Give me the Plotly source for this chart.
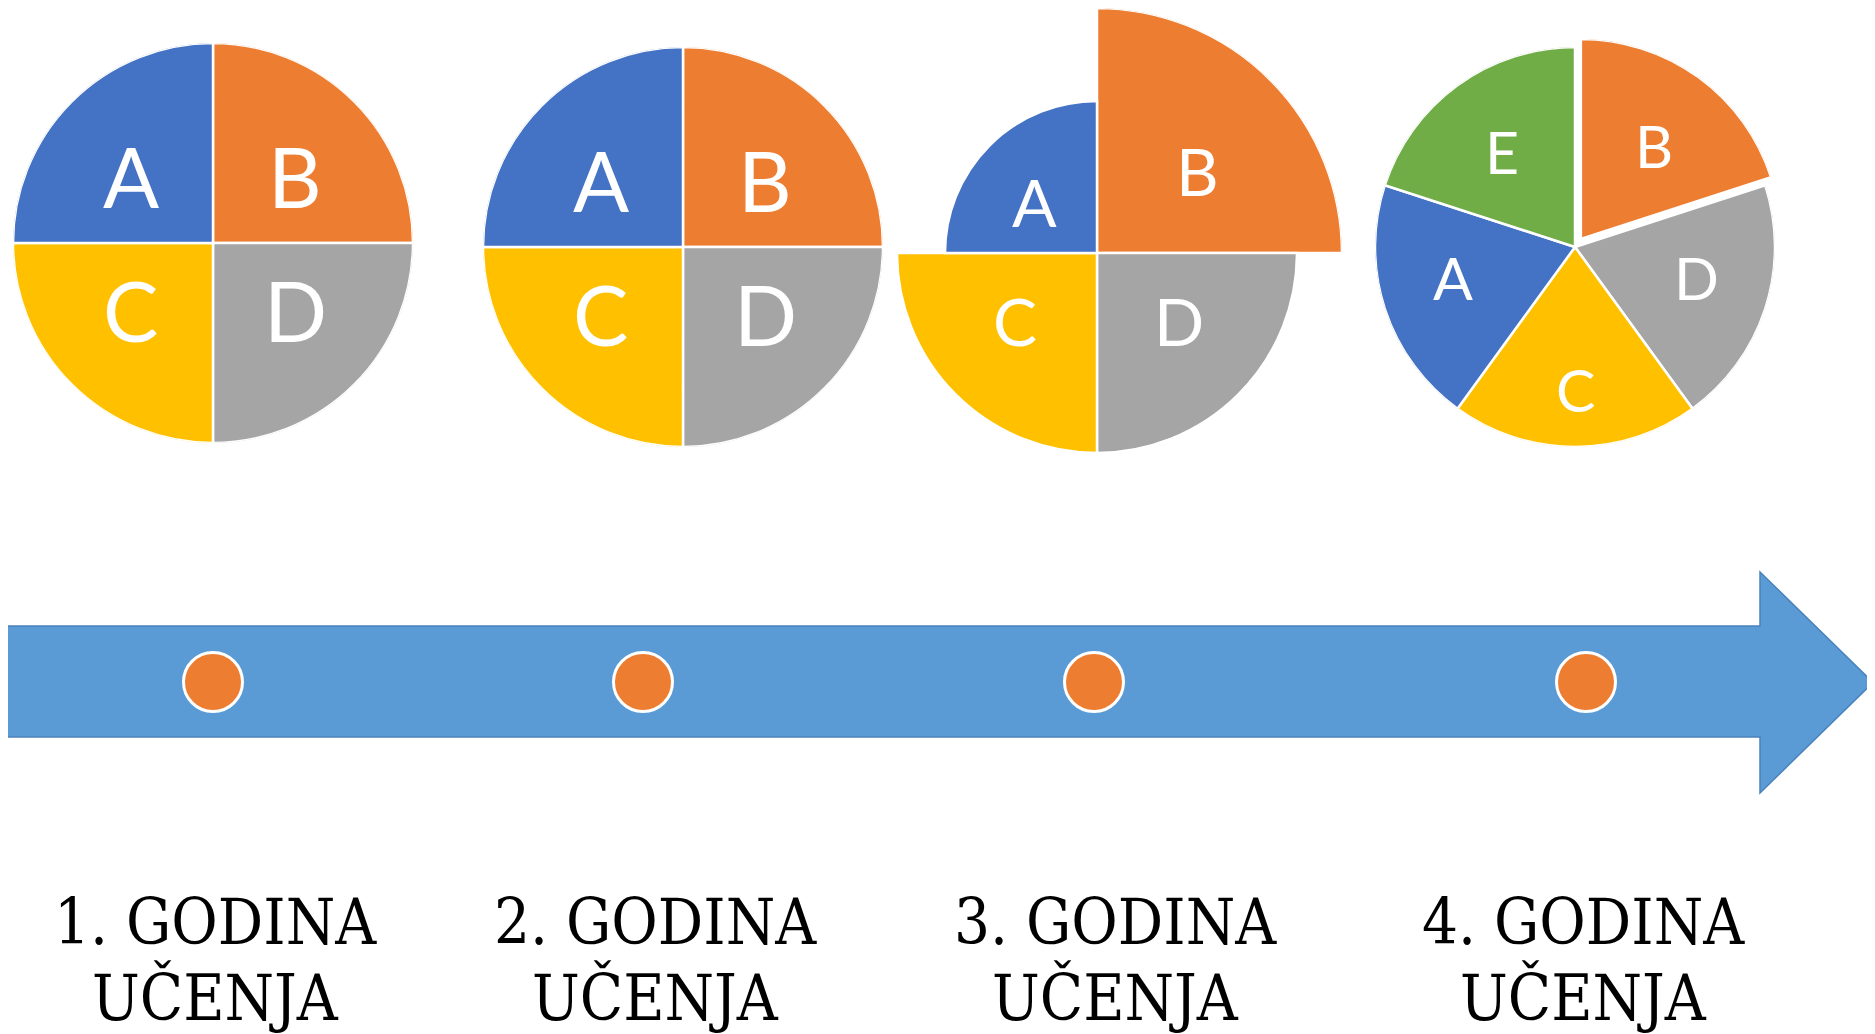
import math
import plotly.graph_objects as go

# ---------------- data ----------------
years = ["1. GODINA", "2. GODINA", "3. GODINA", "4. GODINA"]
year_subtitle = "UČENJA"

# slices listed clockwise from 12 o'clock
year1_labels = ["B", "D", "C", "A"]
year1_radius = [1.0, 1.0, 1.0, 1.0]
year2_labels = ["B", "D", "C", "A"]
year2_radius = [1.0, 1.0, 1.0, 1.0]
year3_labels = ["B", "D", "C", "A"]
year3_radius = [1.225, 1.0, 1.0, 0.76]
year4_labels = ["B", "D", "C", "A", "E"]
year4_radius = [1.0, 1.0, 1.0, 1.0, 1.0]

# ---------------- style / layout (page pixel coordinates) ----------------
W, H = 1875, 1034
OFF = 8                      # browser body margin
FW, FH = W - OFF, H - OFF    # figure size
colors = {"A": "#4472C4", "B": "#ED7D31", "C": "#FFC000", "D": "#A5A5A5", "E": "#70AD47"}
pie_centers = [(213, 243), (683, 247), (1097, 253), (1575, 247)]
unit_px = 200          # pixels for radius 1.0
pie_rmax = [1.0, 1.0, 1.225, 1.0]
pie_pull = [[0] * 4, [0] * 4, [0] * 4, [0.05, 0, 0, 0, 0]]
label_font = [83, 83, 66, 59]
# horizontal / vertical placement fractions of the slice radius
label_fx = [[0.58] * 4, [0.58] * 4, [0.58] * 4, [0.62, 0.64, 0.71, 0.64, 0.62]]
label_fy = [[0.475] * 4, [0.475] * 4, [0.475] * 4, [0.58, 0.50, 0.71, 0.50, 0.59]]
dot_x = [213, 643, 1094, 1586]
dot_y = 682
text_x = [215, 655, 1115, 1583]
arrow = dict(x0=7, top=626, bottom=737, head_x=1760, head_top=572, head_bottom=793, tip_x=1873)


def fx(px):
    return (px - OFF) / FW


def fy(py):
    return 1 - (py - OFF) / FH


pies = [
    (year1_labels, year1_radius),
    (year2_labels, year2_radius),
    (year3_labels, year3_radius),
    (year4_labels, year4_radius),
]

fig = go.Figure()
layout_polars = {}
sub_count = 0


def new_polar(cx, cy, rmax):
    global sub_count
    sub_count += 1
    name = "polar" if sub_count == 1 else f"polar{sub_count}"
    half = unit_px * rmax
    layout_polars[name] = dict(
        domain=dict(x=[fx(cx - half), fx(cx + half)], y=[fy(cy + half), fy(cy - half)]),
        bgcolor="rgba(0,0,0,0)", bargap=0, hole=0,
        radialaxis=dict(visible=False, range=[0, rmax], showgrid=False),
        angularaxis=dict(visible=False, rotation=90, direction="clockwise", showgrid=False),
    )
    return name


for i, (labels, radius) in enumerate(pies):
    n = len(labels)
    step = 360.0 / n
    mids = [step * (k + 0.5) for k in range(n)]
    cx, cy = pie_centers[i]
    pulls = pie_pull[i]
    groups = [[k for k in range(n) if pulls[k] == 0]] + [[k] for k in range(n) if pulls[k] > 0]
    for g in groups:
        p = pulls[g[0]]
        t0 = math.radians(mids[g[0]])
        gx = cx + p * unit_px * math.sin(t0)
        gy = cy - p * unit_px * math.cos(t0)
        sub = new_polar(gx, gy, pie_rmax[i])
        fig.add_trace(go.Barpolar(
            r=[radius[k] for k in g], theta=[mids[k] for k in g], width=[step] * len(g),
            marker=dict(color=[colors[labels[k]] for k in g], line=dict(color="white", width=2.5)),
            subplot=sub, hoverinfo="skip", showlegend=False,
        ))
        for k in g:
            t = math.radians(mids[k])
            lx = gx + label_fx[i][k] * radius[k] * unit_px * math.sin(t)
            ly = gy - label_fy[i][k] * radius[k] * unit_px * math.cos(t)
            fig.add_annotation(x=lx, y=ly, xref="x", yref="y", text=labels[k], showarrow=False,
                               xanchor="center", yanchor="middle",
                               font=dict(family="Lato, Open Sans, sans-serif", size=label_font[i],
                                         color="white"))

# timeline arrow
a = arrow
path = (f"M {a['x0']},{a['top']} L {a['head_x']},{a['top']} L {a['head_x']},{a['head_top']} "
        f"L {a['tip_x']},{(a['top'] + a['bottom']) / 2 + 1} L {a['head_x']},{a['head_bottom']} "
        f"L {a['head_x']},{a['bottom']} L {a['x0']},{a['bottom']} Z")
fig.add_shape(type="path", path=path, xref="x", yref="y",
              fillcolor="#5B9BD5", line=dict(color="#4A83BD", width=1.5), layer="below")

# year dots
fig.add_trace(go.Scatter(
    x=dot_x, y=[dot_y] * len(dot_x), mode="markers",
    marker=dict(size=59, color="#ED7D31", line=dict(color="white", width=3)),
    hoverinfo="skip", showlegend=False,
))

# year labels
fs = 63
serif = "DejaVu Serif Condensed, DejaVu Serif, serif"
for x, t in zip(text_x, years):
    fig.add_annotation(x=x, y=945 - 0.36 * fs, xref="x", yref="y", text=t, showarrow=False,
                       xanchor="center", yanchor="middle",
                       font=dict(family=serif, size=fs, color="black"))
    fig.add_annotation(x=x, y=1020 - 0.36 * fs, xref="x", yref="y", text=year_subtitle, showarrow=False,
                       xanchor="center", yanchor="middle",
                       font=dict(family=serif, size=fs, color="black"))

fig.update_layout(
    width=FW, height=FH, margin=dict(l=0, r=0, t=0, b=0),
    paper_bgcolor="white", plot_bgcolor="white", showlegend=False,
    xaxis=dict(range=[OFF, W], visible=False, domain=[0, 1], fixedrange=True),
    yaxis=dict(range=[H, OFF], visible=False, domain=[0, 1], fixedrange=True),
    **layout_polars,
)

fig.write_html("out.html")
